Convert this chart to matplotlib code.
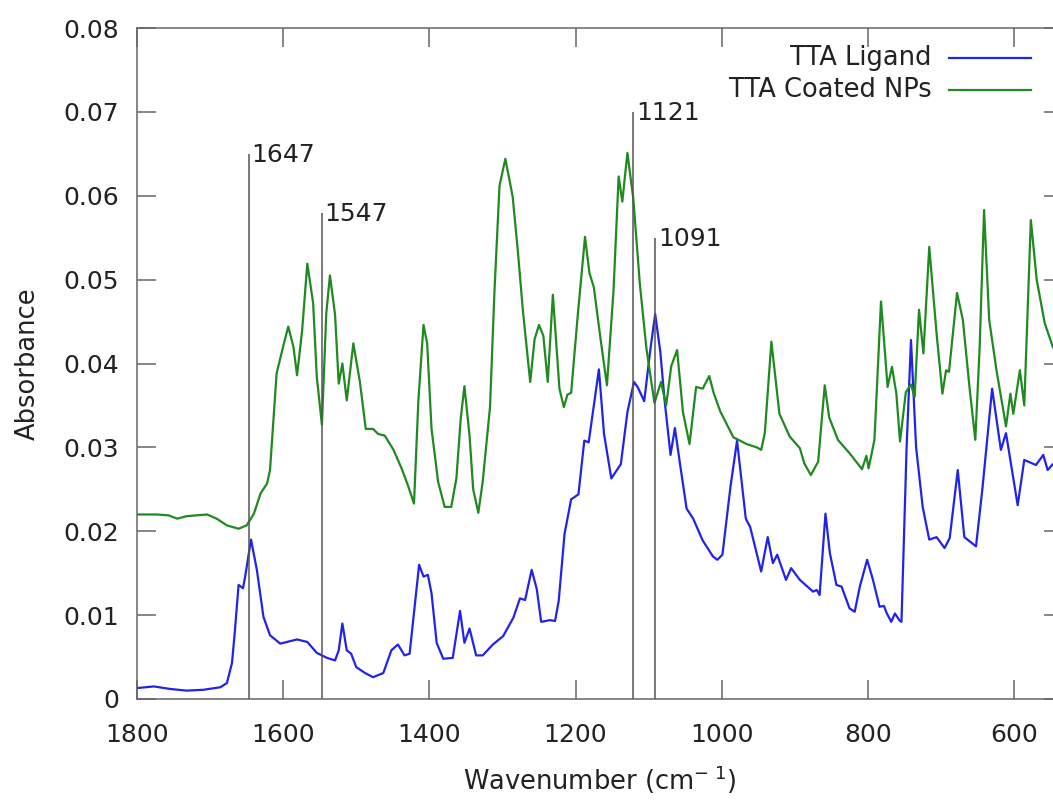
import numpy as np
import matplotlib.pyplot as plt
from matplotlib.ticker import FuncFormatter

# FTIR absorbance spectra, wavenumber in cm^-1 (descending)
ligand_wn = [1800, 1777, 1755, 1732, 1709, 1686, 1677, 1670, 1666, 1661, 1655, 1652,
             1644, 1636, 1627, 1618, 1604, 1581, 1567, 1554, 1540, 1529, 1524, 1519,
             1513, 1507, 1500, 1488, 1477, 1463, 1452, 1443, 1434, 1427, 1414, 1408,
             1402, 1397, 1390, 1381, 1368, 1358, 1352, 1345, 1336, 1327, 1313, 1299,
             1285, 1276, 1269, 1260, 1253, 1247, 1235, 1228, 1223, 1215, 1206, 1196,
             1188, 1182, 1168, 1161, 1151, 1138, 1129, 1120, 1115, 1106, 1098, 1091,
             1084, 1078, 1070, 1064, 1057, 1048, 1039, 1026, 1012, 1006, 999, 988,
             979, 967, 961, 946, 937, 930, 924, 912, 905, 893, 875, 870, 866, 858,
             852, 843, 836, 825, 818, 811, 801, 793, 784, 778, 774, 768, 763, 757,
             754, 747, 741, 734, 725, 716, 706, 695, 688, 677, 668, 652, 643, 630,
             618, 611, 595, 586, 570, 560, 554, 547, 540]
ligand_abs = [0.0013, 0.0015, 0.0012, 0.0010, 0.0011, 0.0014, 0.0019, 0.0043, 0.0082,
              0.0136, 0.0132, 0.0146, 0.0190, 0.0154, 0.0098, 0.0076, 0.0066, 0.0071,
              0.0068, 0.0055, 0.0049, 0.0046, 0.0058, 0.0090, 0.0058, 0.0054, 0.0038,
              0.0031, 0.0026, 0.0031, 0.0058, 0.0065, 0.0052, 0.0054, 0.0160, 0.0146,
              0.0148, 0.0126, 0.0067, 0.0048, 0.0049, 0.0105, 0.0067, 0.0084, 0.0052,
              0.0052, 0.0065, 0.0075, 0.0097, 0.0120, 0.0118, 0.0154, 0.0131, 0.0092,
              0.0094, 0.0093, 0.0117, 0.0197, 0.0238, 0.0244, 0.0308, 0.0306, 0.0393,
              0.0316, 0.0263, 0.0280, 0.0342, 0.0378, 0.0372, 0.0355, 0.0414, 0.0459,
              0.0414, 0.0355, 0.0291, 0.0323, 0.0280, 0.0227, 0.0215, 0.0189, 0.0170,
              0.0166, 0.0172, 0.0253, 0.0308, 0.0215, 0.0205, 0.0152, 0.0193, 0.0162,
              0.0172, 0.0142, 0.0156, 0.0142, 0.0128, 0.0130, 0.0124, 0.0221, 0.0174,
              0.0136, 0.0134, 0.0108, 0.0104, 0.0134, 0.0166, 0.0142, 0.0110, 0.0111,
              0.0102, 0.0092, 0.0102, 0.0094, 0.0092, 0.0300, 0.0428, 0.0300, 0.0229,
              0.0190, 0.0193, 0.0180, 0.0192, 0.0273, 0.0193, 0.0182, 0.0253, 0.0370,
              0.0297, 0.0317, 0.0231, 0.0285, 0.0279, 0.0291, 0.0273, 0.0280, 0.0278]

coated_wn = [1800, 1773, 1757, 1745, 1732, 1704, 1691, 1677, 1661, 1650, 1640, 1631,
             1622, 1618, 1613, 1609, 1599, 1593, 1586, 1581, 1574, 1567, 1559, 1554,
             1547, 1541, 1536, 1529, 1524, 1519, 1513, 1504, 1495, 1487, 1477, 1470,
             1461, 1449, 1438, 1429, 1421, 1415, 1408, 1403, 1397, 1388, 1379, 1370,
             1363, 1357, 1352, 1345, 1340, 1333, 1327, 1317, 1311, 1304, 1296, 1286,
             1279, 1272, 1262, 1256, 1250, 1244, 1238, 1231, 1222, 1216, 1211, 1206,
             1197, 1187, 1181, 1175, 1166, 1157, 1148, 1141, 1136, 1129, 1121, 1112,
             1103, 1092, 1083, 1076, 1069, 1061, 1053, 1044, 1035, 1026, 1017, 1011,
             1002, 984, 966, 952, 946, 941, 932, 921, 907, 893, 887, 878, 868, 859,
             853, 841, 825, 808, 802, 799, 791, 782, 773, 767, 761, 756, 748, 741,
             736, 730, 724, 716, 706, 698, 693, 689, 678, 670, 661, 653, 647, 641,
             634, 624, 611, 605, 601, 592, 586, 577, 569, 558, 547, 540]
coated_abs = [0.0220, 0.0220, 0.0219, 0.0215, 0.0218, 0.0220, 0.0215, 0.0207, 0.0203,
              0.0207, 0.0221, 0.0245, 0.0257, 0.0273, 0.0336, 0.0388, 0.0424, 0.0444,
              0.0420, 0.0386, 0.0440, 0.0519, 0.0472, 0.0384, 0.0327, 0.0460, 0.0505,
              0.0458, 0.0376, 0.0400, 0.0356, 0.0424, 0.0378, 0.0322, 0.0322, 0.0316,
              0.0314, 0.0297, 0.0275, 0.0254, 0.0233, 0.0356, 0.0446, 0.0424, 0.0322,
              0.0259, 0.0229, 0.0229, 0.0263, 0.0335, 0.0373, 0.0314, 0.0250, 0.0222,
              0.0259, 0.0348, 0.0484, 0.0612, 0.0644, 0.0599, 0.0535, 0.0463, 0.0378,
              0.0429, 0.0446, 0.0433, 0.0378, 0.0482, 0.0370, 0.0348, 0.0363, 0.0365,
              0.0457, 0.0551, 0.0508, 0.0491, 0.0431, 0.0374, 0.0487, 0.0623, 0.0593,
              0.0651, 0.0597, 0.0495, 0.0418, 0.0353, 0.0378, 0.0350, 0.0397, 0.0416,
              0.0342, 0.0304, 0.0372, 0.0370, 0.0385, 0.0365, 0.0343, 0.0312, 0.0304,
              0.0300, 0.0297, 0.0317, 0.0426, 0.0340, 0.0313, 0.0299, 0.0281, 0.0267,
              0.0283, 0.0374, 0.0336, 0.0309, 0.0293, 0.0274, 0.0290, 0.0275, 0.0309,
              0.0474, 0.0372, 0.0396, 0.0364, 0.0307, 0.0366, 0.0375, 0.0360, 0.0464,
              0.0412, 0.0539, 0.0436, 0.0364, 0.0392, 0.0390, 0.0484, 0.0452, 0.0372,
              0.0309, 0.0420, 0.0583, 0.0452, 0.0392, 0.0325, 0.0364, 0.0340, 0.0392,
              0.0350, 0.0571, 0.0500, 0.0448, 0.0420, 0.0410]

# marked bands and the height of their marker lines
peak_wn = [1647, 1547, 1121, 1091]
peak_top = [0.065, 0.058, 0.070, 0.055]

x_ticks = [1800, 1600, 1400, 1200, 1000, 800, 600]
y_ticks = [0, 0.01, 0.02, 0.03, 0.04, 0.05, 0.06, 0.07, 0.08]

blue = '#2222ee'
green = '#1f8a1f'
axis_grey = '#666666'
text_col = '#222222'

fig = plt.figure(figsize=(10.53, 8.02), dpi=100)
ax = fig.add_axes([137 / 1053, 103 / 802, 926 / 1053, 671 / 802])

ax.plot(ligand_wn, ligand_abs, color=blue, lw=1.6, solid_joinstyle='round')
ax.plot(coated_wn, coated_abs, color=green, lw=1.6, solid_joinstyle='round')

ax.vlines(peak_wn, 0, peak_top, color='#555555', lw=1.1)
for wn, top in zip(peak_wn, peak_top):
    ax.annotate(str(wn), (wn, top), xytext=(2, -1), textcoords='offset points',
                ha='left', va='center', fontsize=18, color=text_col)

ax.set_xlim(1800, 533)
ax.set_ylim(0, 0.08)
ax.set_xticks(x_ticks)
ax.set_yticks(y_ticks)
ax.yaxis.set_major_formatter(FuncFormatter(lambda v, p: '0' if v == 0 else f'{v:.2f}'))
ax.tick_params(direction='in', length=13.5, width=1.1, color=axis_grey,
               top=True, right=True, labelsize=18, labelcolor=text_col)
ax.tick_params(axis='y', pad=13)
ax.tick_params(axis='x', pad=17)
for s in ax.spines.values():
    s.set_color(axis_grey)
    s.set_linewidth(1.1)

ax.set_xlabel('Wavenumber (cm$^{-\\ 1}$)', fontsize=18.5, color=text_col, labelpad=12)
ax.set_ylabel('Absorbance', fontsize=18.5, color=text_col, labelpad=16)

# key in the top right corner: right-aligned text, sample line to its right
legend_rows = [('TTA Ligand', blue), ('TTA Coated NPs', green)]
for i, (name, col) in enumerate(legend_rows):
    y = (699 - 58 - 32 * i) / 671
    ax.text((932 - 137) / 926, y, name, transform=ax.transAxes, ha='right',
            va='center', fontsize=18.5, color=text_col)
    ax.plot([(949 - 137) / 926, (1031 - 137) / 926], [y, y], transform=ax.transAxes,
            color=col, lw=1.6)

fig.savefig('out.png', dpi=100)
